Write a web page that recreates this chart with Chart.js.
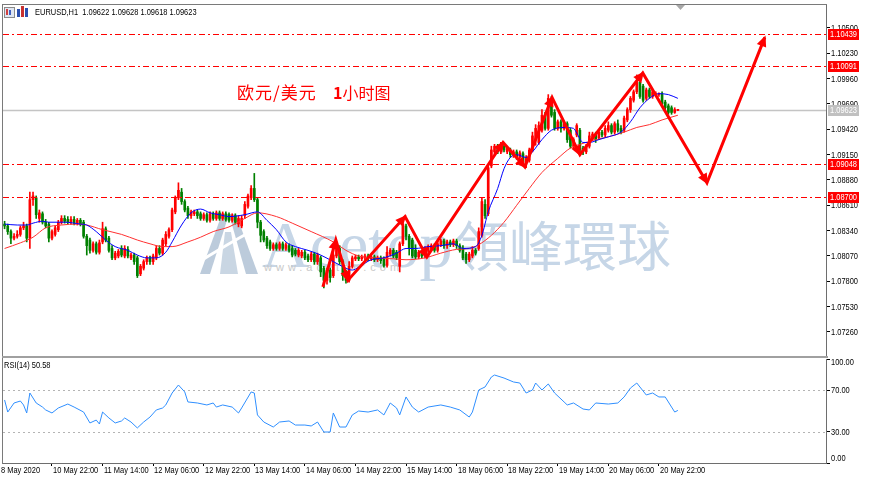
<!DOCTYPE html>
<html><head><meta charset="utf-8">
<script src="https://cdn.jsdelivr.net/npm/chart.js@4.4.0/dist/chart.umd.min.js"></script>
<style>
html,body{margin:0;padding:0;background:#fff;width:870px;height:480px;overflow:hidden;}
#wrap{position:relative;width:870px;height:480px;}
canvas{position:absolute;left:0;z-index:1;}
#c1{top:0;} #c2{top:358px;}
.t{position:absolute;white-space:nowrap;}
.wm{z-index:0;}
.ov{z-index:2;}
.sm{font:9px/11px 'Liberation Sans',sans-serif;color:#000;transform:scaleX(0.83);transform-origin:0 0;}
</style></head>
<body><div id="wrap">
<svg class="t wm" style="left:198px;top:210px" width="62" height="66" viewBox="0 0 62 66">
  <polygon points="2,64 24,4 31,4 12,64" fill="#bccbdb"/>
  <polygon points="31,4 38,4 60,64 48,64" fill="#bccbdb"/>
  <polygon points="27,22 33,22 40,64 22,64" fill="#c9d6e3"/>
  <path d="M4,50 Q30,34 52,22" stroke="#ffffff" stroke-width="3" fill="none"/>
  <polygon points="52,16 58,20 50,27" fill="#ffffff"/>
</svg>
<div class="t wm" style="left:262px;top:212px;font:66px/66px 'Liberation Serif','DejaVu Serif',serif;color:#c6d6e7;">Acetop</div>
<div class="t wm" style="left:455px;top:217px;font:54px/54px 'Noto Sans CJK TC','Noto Sans CJK SC',sans-serif;color:#c6d6e7;">領峰環球</div>
<div class="t wm" style="left:264px;top:261px;font:11px/12px 'Liberation Sans',sans-serif;letter-spacing:4px;color:#c8c8c8;">www.acetop.com</div>
<canvas id="c1" width="870" height="358"></canvas>
<canvas id="c2" width="870" height="122"></canvas>
<div class="t ov" style="left:4px;top:7px;width:9px;height:9px;border:1px solid #8a8a8a;background:#dfe6f2;"></div>
<div class="t ov" style="left:6px;top:9px;width:2px;height:6px;background:#d04040;"></div>
<div class="t ov" style="left:9px;top:10px;width:2px;height:5px;background:#4060c0;"></div>
<div class="t ov" style="left:17px;top:9px;width:3px;height:8px;background:#2a4fb0;"></div>
<div class="t ov" style="left:21px;top:6px;width:3px;height:11px;background:#c83030;"></div>
<div class="t ov" style="left:25px;top:8px;width:3px;height:9px;background:#2a4fb0;"></div>
<div class="t ov sm" style="left:35px;top:7px;">EURUSD,H1&nbsp;&nbsp;1.09622 1.09628 1.09618 1.09623</div>
<div class="t ov" style="left:237px;top:82px;font:17px/20px 'Noto Sans CJK SC',sans-serif;letter-spacing:1px;color:#ff0000;">欧元/美元</div>
<div class="t ov" style="left:333px;top:82px;font:16px/20px 'Noto Sans CJK SC',sans-serif;color:#ff0000;"><b>1</b>小时图</div>
<div class="t ov sm" style="left:4px;top:360px;">RSI(14) 50.58</div>
</div>
<script>
// ---------- data ----------
const opens = [1.0841,1.0839,1.0833,1.0826,1.0828,1.0830,1.0837,1.0839,1.0826,1.0867,
1.0869,1.0847,1.0852,1.0843,1.0841,1.0826,1.0830,1.0835,1.0843,1.0847,
1.0846,1.0843,1.0846,1.0842,1.0845,1.0843,1.0828,1.0824,1.0813,1.0820,
1.0811,1.0822,1.0836,1.0826,1.0815,1.0805,1.0807,1.0815,1.0807,1.0814,
1.0805,1.0808,1.0805,1.0788,1.0794,1.0801,1.0805,1.0801,1.0805,1.0815,
1.0810,1.0820,1.0828,1.0835,1.0854,1.0869,1.0875,1.0865,1.0858,1.0850,
1.0852,1.0854,1.0852,1.0847,1.0851,1.0845,1.0852,1.0847,1.0853,1.0847,
1.0852,1.0851,1.0845,1.0850,1.0841,1.0839,1.0850,1.0860,1.0869,1.0879,
1.0867,1.0843,1.0833,1.0826,1.0822,1.0815,1.0819,1.0815,1.0820,1.0815,
1.0818,1.0815,1.0813,1.0808,1.0807,1.0811,1.0807,1.0803,1.0809,1.0801,
1.0805,1.0794,1.0781,1.0792,1.0786,1.0807,1.0815,1.0801,1.0790,1.0781,
1.0796,1.0804,1.0806,1.0804,1.0805,1.0807,1.0804,1.0806,1.0803,1.0805,
1.0804,1.0797,1.0809,1.0813,1.0811,1.0796,1.0820,1.0839,1.0828,1.0824,
1.0813,1.0806,1.0811,1.0807,1.0813,1.0815,1.0818,1.0813,1.0819,1.0823,
1.0818,1.0822,1.0819,1.0823,1.0818,1.0815,1.0809,1.0803,1.0807,1.0813,
1.0815,1.0829,1.0862,1.0852,1.0903,1.0918,1.0924,1.0918,1.0924,1.0918,
1.0920,1.0915,1.0918,1.0912,1.0916,1.0907,1.0909,1.0920,1.0931,1.0928,
1.0941,1.0957,1.0943,1.0975,1.0960,1.0943,1.0950,1.0943,1.0948,1.0941,
1.0924,1.0936,1.0941,1.0922,1.0918,1.0924,1.0933,1.0937,1.0933,1.0939,
1.0936,1.0941,1.0946,1.0939,1.0948,1.0943,1.0941,1.0952,1.0963,1.0973,
1.0982,1.0992,1.0988,1.0975,1.0984,1.0977,1.0979,1.0979,1.0980,1.0971,
1.0967,1.0965,1.0960,1.09622];
const closes = [1.0839,1.0833,1.0826,1.0828,1.0830,1.0837,1.0839,1.0826,1.0867,1.0871,
1.0851,1.0853,1.0843,1.0839,1.0826,1.0833,1.0837,1.0843,1.0847,1.0844,
1.0843,1.0846,1.0842,1.0845,1.0841,1.0828,1.0818,1.0813,1.0820,1.0811,
1.0821,1.0836,1.0824,1.0813,1.0805,1.0810,1.0812,1.0808,1.0815,1.0807,
1.0808,1.0801,1.0786,1.0796,1.0801,1.0805,1.0801,1.0807,1.0815,1.0810,
1.0824,1.0830,1.0835,1.0856,1.0869,1.0877,1.0865,1.0856,1.0850,1.0854,
1.0854,1.0850,1.0847,1.0851,1.0845,1.0852,1.0847,1.0853,1.0847,1.0852,
1.0846,1.0845,1.0850,1.0843,1.0847,1.0847,1.0862,1.0871,1.0879,1.0867,
1.0843,1.0829,1.0824,1.0818,1.0815,1.0819,1.0815,1.0820,1.0815,1.0819,
1.0813,1.0808,1.0809,1.0813,1.0811,1.0805,1.0803,1.0809,1.0801,1.0808,
1.0790,1.0781,1.0792,1.0784,1.0808,1.0815,1.0801,1.0786,1.0781,1.0796,
1.0805,1.0806,1.0804,1.0806,1.0807,1.0804,1.0806,1.0803,1.0805,1.0802,
1.0797,1.0811,1.0813,1.0807,1.0805,1.0820,1.0841,1.0828,1.0815,1.0807,
1.0806,1.0811,1.0807,1.0814,1.0817,1.0818,1.0813,1.0820,1.0823,1.0818,
1.0822,1.0819,1.0823,1.0818,1.0813,1.0805,1.0803,1.0809,1.0813,1.0810,
1.0833,1.0865,1.0850,1.0901,1.0920,1.0924,1.0918,1.0924,1.0920,1.0922,
1.0915,1.0918,1.0912,1.0917,1.0907,1.0911,1.0920,1.0935,1.0943,1.0946,
1.0957,1.0943,1.0975,1.0957,1.0943,1.0950,1.0943,1.0948,1.0931,1.0924,
1.0931,1.0946,1.0920,1.0918,1.0924,1.0935,1.0937,1.0931,1.0939,1.0936,
1.0943,1.0946,1.0939,1.0948,1.0941,1.0939,1.0954,1.0963,1.0975,1.0982,
1.0992,1.0977,1.0973,1.0984,1.0977,1.0982,1.0980,1.0980,1.0969,1.0965,
1.0960,1.0960,1.0963,1.09623];
const highs = [1.0844,1.0841,1.0835,1.0831,1.0834,1.0839,1.0843,1.0841,1.0875,1.0875,
1.0871,1.0856,1.0854,1.0846,1.0843,1.0835,1.0839,1.0845,1.0850,1.0850,
1.0849,1.0849,1.0849,1.0847,1.0847,1.0845,1.0830,1.0826,1.0822,1.0822,
1.0824,1.0843,1.0838,1.0828,1.0818,1.0812,1.0814,1.0818,1.0818,1.0817,
1.0810,1.0810,1.0807,1.0798,1.0803,1.0807,1.0807,1.0809,1.0818,1.0818,
1.0826,1.0833,1.0837,1.0858,1.0871,1.0885,1.0879,1.0867,1.0860,1.0856,
1.0856,1.0856,1.0854,1.0853,1.0853,1.0854,1.0854,1.0855,1.0855,1.0854,
1.0854,1.0853,1.0852,1.0852,1.0850,1.0850,1.0865,1.0873,1.0882,1.0895,
1.0869,1.0845,1.0835,1.0828,1.0824,1.0821,1.0821,1.0822,1.0822,1.0821,
1.0820,1.0818,1.0815,1.0815,1.0813,1.0813,1.0809,1.0811,1.0811,1.0810,
1.0807,1.0796,1.0794,1.0794,1.0813,1.0820,1.0818,1.0803,1.0792,1.0801,
1.0807,1.0808,1.0808,1.0808,1.0809,1.0809,1.0808,1.0808,1.0807,1.0807,
1.0806,1.0817,1.0815,1.0815,1.0813,1.0822,1.0843,1.0841,1.0830,1.0826,
1.0819,1.0813,1.0813,1.0817,1.0819,1.0820,1.0820,1.0822,1.0825,1.0825,
1.0824,1.0824,1.0825,1.0825,1.0820,1.0818,1.0811,1.0811,1.0817,1.0815,
1.0837,1.0869,1.0867,1.0904,1.0924,1.0926,1.0926,1.0928,1.0926,1.0924,
1.0922,1.0920,1.0920,1.0919,1.0918,1.0914,1.0922,1.0939,1.0947,1.0950,
1.0963,1.0960,1.0979,1.0977,1.0963,1.0952,1.0952,1.0950,1.0950,1.0943,
1.0933,1.0948,1.0943,1.0924,1.0926,1.0939,1.0939,1.0939,1.0941,1.0941,
1.0946,1.0950,1.0948,1.0950,1.0952,1.0946,1.0956,1.0965,1.0977,1.0984,
1.1000,1.0995,1.0990,1.0986,1.0986,1.0984,1.0982,1.0981,1.0982,1.0973,
1.0969,1.0967,1.0965,1.09628];
const lows = [1.0836,1.0830,1.0820,1.0824,1.0826,1.0828,1.0835,1.0822,1.0815,1.0861,
1.0847,1.0843,1.0841,1.0837,1.0822,1.0824,1.0828,1.0833,1.0841,1.0842,
1.0841,1.0841,1.0840,1.0840,1.0839,1.0826,1.0808,1.0810,1.0811,1.0809,
1.0809,1.0820,1.0822,1.0811,1.0803,1.0803,1.0805,1.0806,1.0805,1.0805,
1.0803,1.0798,1.0784,1.0786,1.0792,1.0798,1.0798,1.0798,1.0803,1.0808,
1.0808,1.0818,1.0826,1.0833,1.0852,1.0867,1.0862,1.0854,1.0847,1.0847,
1.0850,1.0847,1.0845,1.0845,1.0843,1.0843,1.0845,1.0845,1.0845,1.0845,
1.0844,1.0843,1.0843,1.0841,1.0838,1.0837,1.0847,1.0858,1.0867,1.0865,
1.0837,1.0822,1.0822,1.0815,1.0813,1.0813,1.0813,1.0813,1.0813,1.0813,
1.0811,1.0806,1.0807,1.0806,1.0805,1.0803,1.0801,1.0801,1.0798,1.0798,
1.0785,1.0773,1.0777,1.0779,1.0784,1.0805,1.0798,1.0781,1.0778,1.0779,
1.0794,1.0802,1.0802,1.0802,1.0803,1.0802,1.0802,1.0801,1.0801,1.0799,
1.0795,1.0795,1.0807,1.0805,1.0803,1.0790,1.0818,1.0824,1.0808,1.0805,
1.0804,1.0804,1.0805,1.0805,1.0811,1.0813,1.0811,1.0811,1.0817,1.0815,
1.0815,1.0817,1.0817,1.0815,1.0811,1.0803,1.0799,1.0801,1.0805,1.0808,
1.0813,1.0827,1.0847,1.0850,1.0901,1.0916,1.0916,1.0916,1.0918,1.0916,
1.0912,1.0912,1.0910,1.0910,1.0905,1.0901,1.0907,1.0918,1.0925,1.0926,
1.0939,1.0941,1.0941,1.0955,1.0941,1.0941,1.0939,1.0941,1.0928,1.0922,
1.0922,1.0934,1.0917,1.0915,1.0916,1.0922,1.0931,1.0928,1.0931,1.0934,
1.0934,1.0939,1.0937,1.0937,1.0939,1.0937,1.0939,1.0950,1.0960,1.0971,
1.0980,1.0975,1.0971,1.0973,1.0975,1.0975,1.0977,1.0977,1.0967,1.0963,
1.0958,1.0958,1.0959,1.09618];

// moving averages (bar index, value)
const maFastIdx = [0,4,7,9,12,14,19,24,26,29,32,35,39,42,45,48,51,53,56,59,62,65,68,71,76,80,83,86,89,92,96,100,104,108,110,112,116,120,124,127,130,134,138,142,145,149,151,153,156,158,160,162,165,167,170,173,177,180,181,183,185,188,191,195,198,201,204,207,210,213];
const maFastVal = [1.0841,1.0840,1.0840,1.0842,1.0844,1.0843,1.0843,1.0841,1.0840,1.0833,1.0824,1.0817,1.0813,1.0808,1.0805,1.0805,1.0811,1.0822,1.0840,1.0853,1.0857,1.0853,1.0851,1.0849,1.0851,1.0854,1.0845,1.0835,1.0822,1.0817,1.0813,1.0808,1.0801,1.0794,1.0792,1.0795,1.0803,1.0805,1.0810,1.0815,1.0815,1.0817,1.0818,1.0820,1.0815,1.0817,1.0829,1.0854,1.0879,1.0900,1.0912,1.0915,1.0912,1.0918,1.0931,1.0941,1.0944,1.0943,1.0938,1.0928,1.0928,1.0931,1.0934,1.0939,1.0950,1.0965,1.0975,1.0980,1.0979,1.0975];
const maSlowIdx = [0,5,9,13,18,23,26,31,37,42,46,50,53,58,62,66,71,76,80,86,91,97,104,108,112,117,123,127,133,138,143,147,150,154,158,162,166,170,175,179,183,187,191,196,200,204,208,213];
const maSlowVal = [1.0815,1.0821,1.0827,1.0837,1.0840,1.0841,1.0840,1.0835,1.0830,1.0824,1.0820,1.0817,1.0817,1.0822,1.0827,1.0833,1.0838,1.0847,1.0853,1.0849,1.0842,1.0833,1.0822,1.0813,1.0807,1.0805,1.0804,1.0803,1.0805,1.0810,1.0814,1.0815,1.0819,1.0829,1.0843,1.0861,1.0879,1.0896,1.0911,1.0922,1.0927,1.0931,1.0934,1.0939,1.0944,1.0947,1.0952,1.0957];

// RSI(14)
const rsiIdx = [0,1,3,5,6,7,8,10,12,13,15,17,20,22,25,27,29,30,31,33,35,37,38,40,42,44,46,48,50,51,53,55,57,58,61,64,66,67,69,72,74,75,78,79,80,82,85,87,90,92,95,97,99,101,103,104,106,108,110,112,115,118,120,122,124,125,127,129,131,134,138,141,144,147,148,150,152,154,155,158,161,163,165,167,168,170,172,174,177,178,180,183,185,187,191,194,196,198,200,203,205,207,209,211,212,213];
const rsiVal = [60.6,49.0,57.7,59.6,55.8,48.1,67.3,57.7,53.8,51.0,48.1,52.9,56.7,53.8,49.0,38.5,41.3,37.5,49.0,43.3,38.5,40.4,43.3,39.4,33.7,39.4,44.2,51.0,52.9,55.8,67.3,75.0,68.3,58.7,57.7,55.8,57.7,53.8,55.8,53.8,48.1,52.9,68.3,67.3,46.2,39.4,34.6,39.4,40.4,36.5,36.5,35.6,39.4,29.8,29.8,48.1,34.6,34.6,46.2,50.0,49.0,51.0,46.2,57.7,52.9,46.2,63.5,53.8,49.0,53.8,55.8,53.8,51.0,44.2,49.0,70.2,73.1,82.7,84.6,81.7,77.9,76.9,67.3,70.2,76.9,70.2,76.0,67.3,58.7,55.8,57.7,51.9,51.0,57.7,56.7,57.7,63.5,72.1,76.9,65.4,67.3,63.5,63.5,53.8,49.0,50.58];

// drawn zig-zag forecast path (bar index, price)
const zigIdx = [100.7,104.8,108.6,126.7,133.6,157.7,164.6,173.2,182.0,201.9,222.2,240.5];
const zigVal = [1.0774,1.0824,1.0781,1.0849,1.0806,1.0928,1.0902,1.0976,1.0915,1.1002,1.0885,1.1040];

// horizontal levels
const levelValues = [1.10439,1.10091,1.09048,1.08700];
const currentPrice = 1.09623;

// axis ticks
const priceTicks = [1.10500,1.10230,1.09960,1.09690,1.09420,1.09150,1.08880,1.08610,1.08340,1.08070,1.07800,1.07530,1.07260];
const rsiTicks = [0,30,70,100];
const dateIdx = [-0.5,15,31,47,63,79,95,111,127,143,159,175,191,207];
const dateLabels = ['8 May 2020','10 May 22:00','11 May 14:00','12 May 06:00','12 May 22:00','13 May 14:00','14 May 06:00','14 May 22:00','15 May 14:00','18 May 06:00','18 May 22:00','19 May 14:00','20 May 06:00','20 May 22:00'];

// ---------- rendering ----------
const FONT = "9px 'Liberation Sans', sans-serif";
const SQ = 0.83; // horizontal squeeze of the small terminal font
const X_MIN = -0.5, X_MAX = 259.86;
const UP = '#ff0000', DOWN = '#008000';
const candleColor = i => closes[i] >= opens[i] ? UP : DOWN;
Chart.defaults.color = '#000';

function smallText(ctx, txt, x, y, color) {
  ctx.save();
  ctx.font = FONT; ctx.fillStyle = color; ctx.textAlign = 'left'; ctx.textBaseline = 'middle';
  ctx.translate(x, y); ctx.scale(SQ, 1);
  ctx.fillText(txt, 0, 0);
  ctx.restore();
}

const mainDecor = {
  id: 'mainDecor',
  beforeDatasetsDraw(chart) {
    const {ctx, chartArea: a, scales: {y}} = chart;
    const py = Math.round(y.getPixelForValue(currentPrice)) + 0.5;
    ctx.save();
    ctx.strokeStyle = '#c4c4c4'; ctx.lineWidth = 1.5;
    ctx.beginPath(); ctx.moveTo(a.left, py); ctx.lineTo(a.right, py); ctx.stroke();
    ctx.restore();
  },
  afterDatasetsDraw(chart) {
    const {ctx, chartArea: a, scales: {y}} = chart;
    ctx.save();
    ctx.beginPath(); ctx.rect(a.left, a.top, a.right - a.left, a.bottom - a.top); ctx.clip();
    ctx.strokeStyle = 'rgb(255,0,0)'; ctx.lineWidth = 1.2; ctx.setLineDash([6, 3, 2, 3]);
    levelValues.forEach(v => {
      const py = Math.round(y.getPixelForValue(v)) + 0.5;
      ctx.beginPath(); ctx.moveTo(a.left, py); ctx.lineTo(a.right, py); ctx.stroke();
    });
    ctx.setLineDash([]);
    // arrow heads of the zig-zag
    const pts = chart.getDatasetMeta(4).data;
    ctx.fillStyle = '#ff0000';
    for (let k = 1; k < pts.length; k++) {
      const p0 = pts[k - 1], p1 = pts[k];
      const dx = p1.x - p0.x, dy = p1.y - p0.y, L = Math.hypot(dx, dy);
      const ux = dx / L, uy = dy / L, nx = -uy, ny = ux;
      const tx = p1.x + ux * 2, ty = p1.y + uy * 2;
      const bx = tx - ux * 11, by = ty - uy * 11;
      ctx.beginPath();
      ctx.moveTo(tx, ty);
      ctx.lineTo(bx + nx * 5, by + ny * 5);
      ctx.lineTo(bx - nx * 5, by - ny * 5);
      ctx.closePath(); ctx.fill();
    }
    ctx.restore();
  },
  afterDraw(chart) {
    const {ctx, scales: {y}} = chart;
    ctx.save();
    ctx.fillStyle = '#7a7a7a';
    ctx.fillRect(2, 4, 825, 1);
    ctx.fillRect(2, 4, 1, 354);
    ctx.fillStyle = '#a0a0a0';
    ctx.fillRect(2, 356, 826, 2);
    ctx.fillStyle = '#a8a8a8';
    ctx.beginPath(); ctx.moveTo(676, 5); ctx.lineTo(685, 5); ctx.lineTo(680.5, 10); ctx.closePath(); ctx.fill();
    ctx.restore();
    // axis price labels
    priceTicks.forEach(v => smallText(ctx, v.toFixed(5), 831, Math.round(y.getPixelForValue(v)) + 0.5, '#000'));
    // level / price boxes
    const box = (v, bg) => {
      const py = Math.round(y.getPixelForValue(v));
      ctx.save(); ctx.fillStyle = bg; ctx.fillRect(828, py - 5, 31, 11); ctx.restore();
      smallText(ctx, v.toFixed(5), 830, py + 0.5, '#ffffff');
    };
    levelValues.forEach(v => box(v, '#ff0000'));
    box(currentPrice, '#c0c0c0');
  }
};

new Chart(document.getElementById('c1'), {
  type: 'bar',
  data: {
    datasets: [
      {type: 'bar', label: 'wick', data: lows.map((l, i) => ({x: i, y: [l, highs[i]]})),
       backgroundColor: c => candleColor(c.dataIndex), barThickness: 1, grouped: false, order: 5},
      {type: 'bar', label: 'body', data: opens.map((o, i) => ({x: i, y: [o, closes[i]]})),
       backgroundColor: c => candleColor(c.dataIndex), barThickness: 2, minBarLength: 1, grouped: false, order: 4},
      {type: 'line', label: 'MA slow', data: maSlowIdx.map((x, k) => ({x, y: maSlowVal[k]})),
       borderColor: '#ff3030', borderWidth: 1, pointRadius: 0, cubicInterpolationMode: 'monotone', order: 3},
      {type: 'line', label: 'MA fast', data: maFastIdx.map((x, k) => ({x, y: maFastVal[k]})),
       borderColor: '#0000ff', borderWidth: 1, pointRadius: 0, cubicInterpolationMode: 'monotone', order: 2},
      {type: 'line', label: 'path', data: zigIdx.map((x, k) => ({x, y: zigVal[k]})),
       borderColor: '#ff0000', borderWidth: 3, pointRadius: 0, borderJoinStyle: 'miter', tension: 0, order: 1}
    ]
  },
  options: {
    responsive: false, animation: false, events: [],
    layout: {padding: {left: 3, top: 5, right: 0, bottom: 2}},
    plugins: {legend: {display: false}, tooltip: {enabled: false}},
    scales: {
      x: {type: 'linear', min: X_MIN, max: X_MAX, offset: false, display: false},
      y: {type: 'linear', position: 'right', min: 1.07004, max: 1.10745,
          afterBuildTicks: ax => { ax.ticks = priceTicks.map(v => ({value: v})); },
          afterFit: ax => { ax.width = 44; },
          grid: {drawOnChartArea: false, tickLength: 4, tickColor: '#000', tickWidth: 1},
          border: {display: true, color: '#6e6e6e', width: 1},
          ticks: {display: false, autoSkip: false}}
    }
  },
  plugins: [mainDecor]
});

const rsiDecor = {
  id: 'rsiDecor',
  beforeDatasetsDraw(chart) {
    const {ctx, chartArea: a, scales: {y}} = chart;
    ctx.save();
    ctx.strokeStyle = '#b4b4b4'; ctx.lineWidth = 1; ctx.setLineDash([2, 3]);
    [30, 70].forEach(v => {
      const py = Math.round(y.getPixelForValue(v)) + 0.5;
      ctx.beginPath(); ctx.moveTo(a.left, py); ctx.lineTo(a.right, py); ctx.stroke();
    });
    ctx.restore();
  },
  afterDraw(chart) {
    const {ctx, chartArea: a, scales: {x, y}} = chart;
    ctx.save();
    ctx.fillStyle = '#7a7a7a';
    ctx.fillRect(2, 0, 1, 106);
    ctx.restore();
    smallText(ctx, '100.00', 831, y.getPixelForValue(100) + 3.5, '#000');
    smallText(ctx, '70.00', 831, Math.round(y.getPixelForValue(70)) + 0.5, '#000');
    smallText(ctx, '30.00', 831, Math.round(y.getPixelForValue(30)) + 0.5, '#000');
    smallText(ctx, '0.00', 831, y.getPixelForValue(0) - 4, '#000');
    dateIdx.forEach((v, i) => {
      const px = Math.round(x.getPixelForValue(v));
      smallText(ctx, dateLabels[i], px + (i === 0 ? -2 : 1), a.bottom + 8, '#000');
    });
  }
};

new Chart(document.getElementById('c2'), {
  type: 'line',
  data: {datasets: [{label: 'RSI(14)', data: rsiIdx.map((x, k) => ({x, y: rsiVal[k]})),
    borderColor: '#2f8fff', borderWidth: 1, pointRadius: 0, tension: 0}]},
  options: {
    responsive: false, animation: false, events: [],
    layout: {padding: {left: 3, top: 1, right: 0, bottom: 0}},
    plugins: {legend: {display: false}, tooltip: {enabled: false}},
    scales: {
      x: {type: 'linear', position: 'bottom', min: X_MIN, max: X_MAX, offset: false,
          afterBuildTicks: ax => { ax.ticks = dateIdx.slice(1).map(v => ({value: v})); },
          afterFit: ax => { ax.height = 17; },
          grid: {drawOnChartArea: false, tickLength: 3, tickColor: '#000'},
          border: {display: true, color: '#6e6e6e', width: 1},
          ticks: {display: false, autoSkip: false}},
      y: {type: 'linear', position: 'right', min: 0, max: 100,
          afterBuildTicks: ax => { ax.ticks = rsiTicks.map(v => ({value: v})); },
          afterFit: ax => { ax.width = 44; },
          grid: {drawOnChartArea: false, tickLength: 4, tickColor: '#000'},
          border: {display: true, color: '#6e6e6e', width: 1},
          ticks: {display: false, autoSkip: false}}
    }
  },
  plugins: [rsiDecor]
});
</script>
</body></html>
